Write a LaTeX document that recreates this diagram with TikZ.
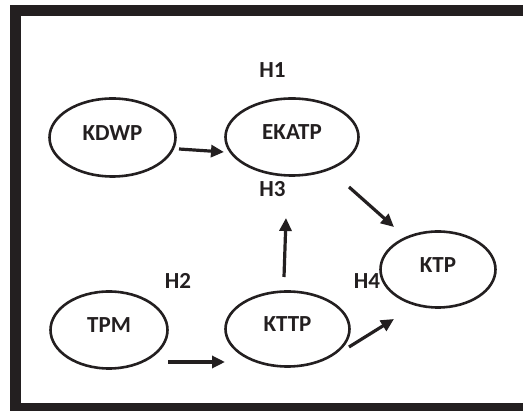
\documentclass[tikz,border=0pt]{standalone}
\usepackage{fontspec}
\setmainfont{Carlito}
\usetikzlibrary{shapes.geometric,arrows.meta,calc}
\definecolor{ink}{HTML}{231F20}
\tikzset{
  construct/.style={ellipse, draw=ink, line width=2.6pt, text=ink, inner sep=2pt,
    text depth=9pt, font=\fontsize{23}{27}\selectfont\bfseries},
  hyp/.style={text=ink, inner sep=0pt, font=\fontsize{23}{27}\selectfont\bfseries},
  arr/.style={draw=ink, line width=3.2pt, -{Triangle[length=13pt,width=12pt]}},
}
\begin{document}
\begin{tikzpicture}[x=1pt,y=-1pt]
\useasboundingbox (0,0) rectangle (523,411);
\fill[white] (0,0) rectangle (523,411);
\draw[ink, line width=11pt] (15.5,10.5) rectangle (540,408.5);

\node[construct, minimum width=126pt, minimum height=78pt] (kdwp) at (112.5,137.5) {KDWP};
\node[construct, minimum width=133pt, minimum height=77pt] (ekatp) at (292,137) {EKATP};
\node[construct, minimum width=117pt, minimum height=77pt] (tpm) at (109,330) {TPM};
\node[construct, minimum width=124pt, minimum height=75pt] (kttp) at (287.5,329) {KTTP};
\node[construct, minimum width=115pt, minimum height=76pt] (ktp) at (438,269.5) {KTP};

\node[hyp] (h1) at (272.5,70) {H1};
\node[hyp] (h3) at (272.5,189.5) {H3};
\node[hyp] (h2) at (178,280.5) {H2};
\node[hyp] (h4) at (367,281) {H4};

\draw[arr] ($(kdwp)+(66.5,11.5)$) -- ($(ekatp)+(-68,15)$);
\draw[arr] ($(tpm)+(59,32)$) -- ($(kttp)+(-62.5,33)$);
\draw[arr] ($(kttp)+(-3.5,-52)$) -- ($(ekatp)+(-6,81)$);
\draw[arr] ($(ekatp)+(57,50)$) -- ($(ktp)+(-44,-42.5)$);
\draw[arr] ($(kttp)+(61.5,18)$) -- ($(ktp)+(-44,49.5)$);
\end{tikzpicture}
\end{document}
